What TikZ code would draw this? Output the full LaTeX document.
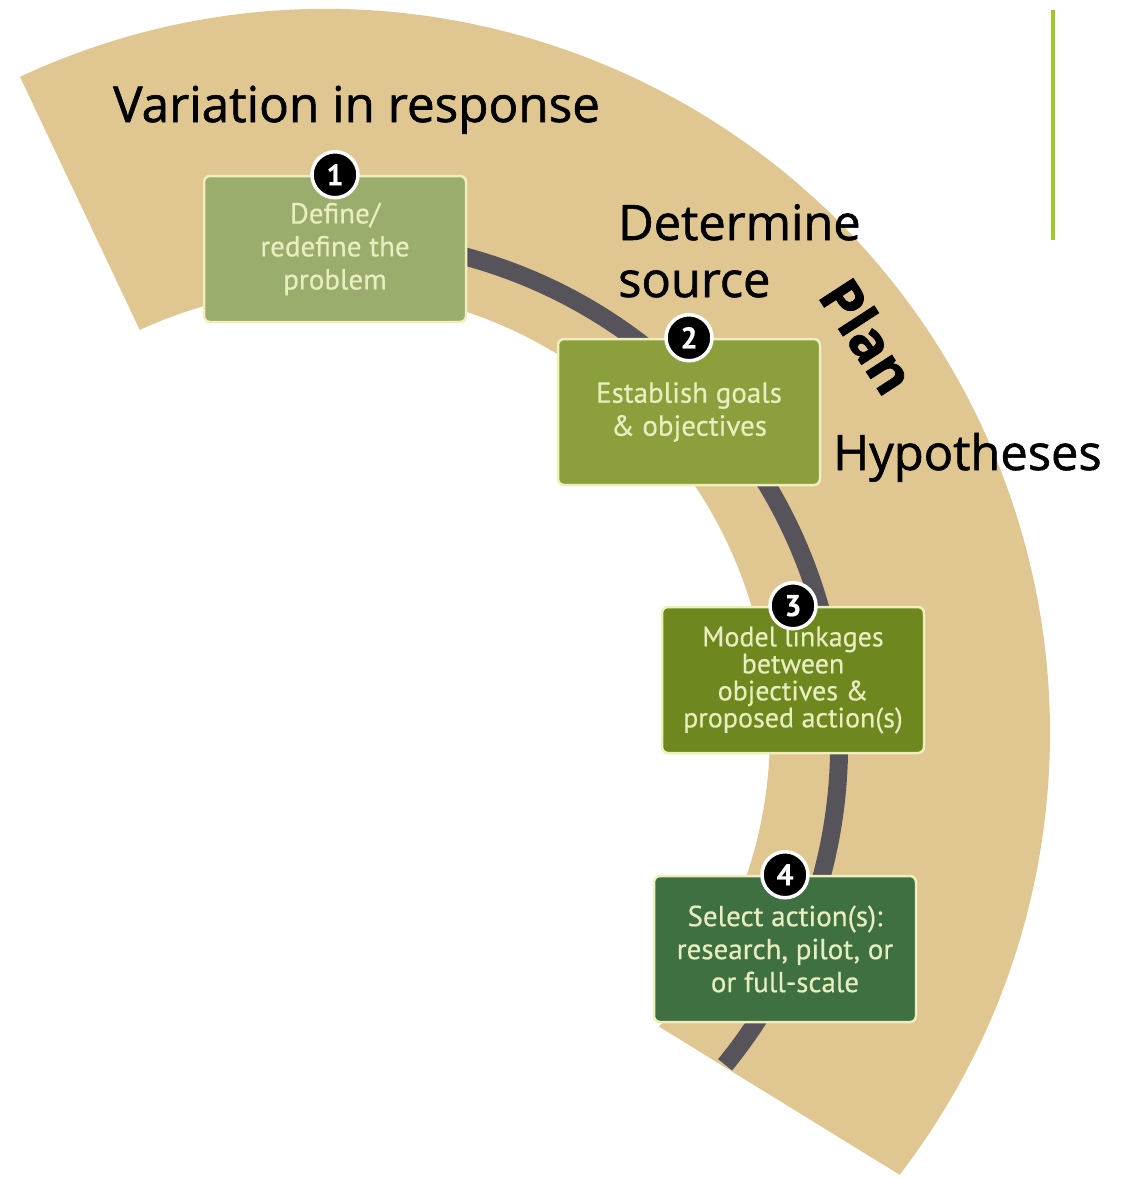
\documentclass[tikz,border=0pt]{standalone}
\usepackage{fontspec}
\setmainfont{Open Sans}
\newfontfamily\lblfont[FakeBold=1.2]{Open Sans}
\newfontfamily\planfont[FakeBold=1.5]{Open Sans Bold}
\newfontfamily\boxfont[FakeBold=0.4]{PT Sans}
\usetikzlibrary{positioning,calc}
\definecolor{bandtan}{RGB}{224,198,145}
\definecolor{trackgray}{RGB}{86,84,90}
\definecolor{stepA}{RGB}{155,173,108}
\definecolor{stepB}{RGB}{139,160,60}
\definecolor{stepC}{RGB}{110,135,30}
\definecolor{stepD}{RGB}{62,112,66}
\definecolor{stepedge}{RGB}{240,238,190}
\definecolor{steptext}{RGB}{232,238,192}
\definecolor{barlime}{RGB}{160,200,40}

\begin{document}
\begin{tikzpicture}[x=1pt,y=1pt,
  stepbox/.style={draw=stepedge,line width=2.5pt,rounded corners=6pt,
                  minimum width=262pt,minimum height=146pt,align=center,
                  text=steptext,font=\boxfont\fontsize{29}{33}\selectfont},
  num/.style={circle,fill=black,draw=white,line width=3.5pt,minimum size=46pt,
              inner sep=0pt,text=white,font=\boxfont\bfseries\fontsize{30}{30}\selectfont},
  lbl/.style={font=\lblfont\fontsize{48.8}{57}\selectfont,inner sep=0pt}
]
\useasboundingbox (0,0) rectangle (1120,-1178);

% band and track
\coordinate (o) at (326,-733);
\coordinate (g) at (333,-745);
\fill[bandtan] ([shift={(o)}]115:724) arc[start angle=115,end angle=-37.6,radius=724]
  -- ([shift={(o)}]-41.4:444) arc[start angle=-41.4,end angle=114.8,radius=444] -- cycle;
\draw[trackgray,line width=18pt] ([shift={(g)}]80:506) arc[start angle=80,end angle=-39.2,radius=506];

% steps
\node[stepbox,fill=stepA] (define) at (335,-249) {Define/\\redefine the\\problem};
\node[stepbox,fill=stepB] (goals) at (689,-412) {Establish goals\\\& objectives};
\node[stepbox,fill=stepC,font=\boxfont\fontsize{28}{27}\selectfont] (model) at (793,-680)
  {Model linkages\\between\\objectives \&\\proposed action(s)};
\node[stepbox,fill=stepD] (select) at (785,-949) {Select action(s):\\research, pilot, or\\or full-scale};

\node[num] (n1) at (define.north) {1};
\node[num] (n2) at (goals.north) {2};
\node[num] (n3) at (model.north) {3};
\node[num] (n4) at (select.north) {4};

% labels
\node[lbl,anchor=base west,font=\lblfont\fontsize{49.4}{57}\selectfont] (variation) at (113,-122) {Variation in response};
\node[lbl,anchor=base west,align=left] (source) at (618,-297) {Determine\\source};
\node[lbl,anchor=base west] (hyp) at (833,-470) {Hypotheses};
\node[font=\planfont\fontsize{56}{56}\selectfont,rotate=-57,inner sep=0pt] (plan) at (868,-336) {Plan};

\draw[barlime,line width=4pt] (1053,-10) -- (1053,-240);
\end{tikzpicture}
\end{document}
